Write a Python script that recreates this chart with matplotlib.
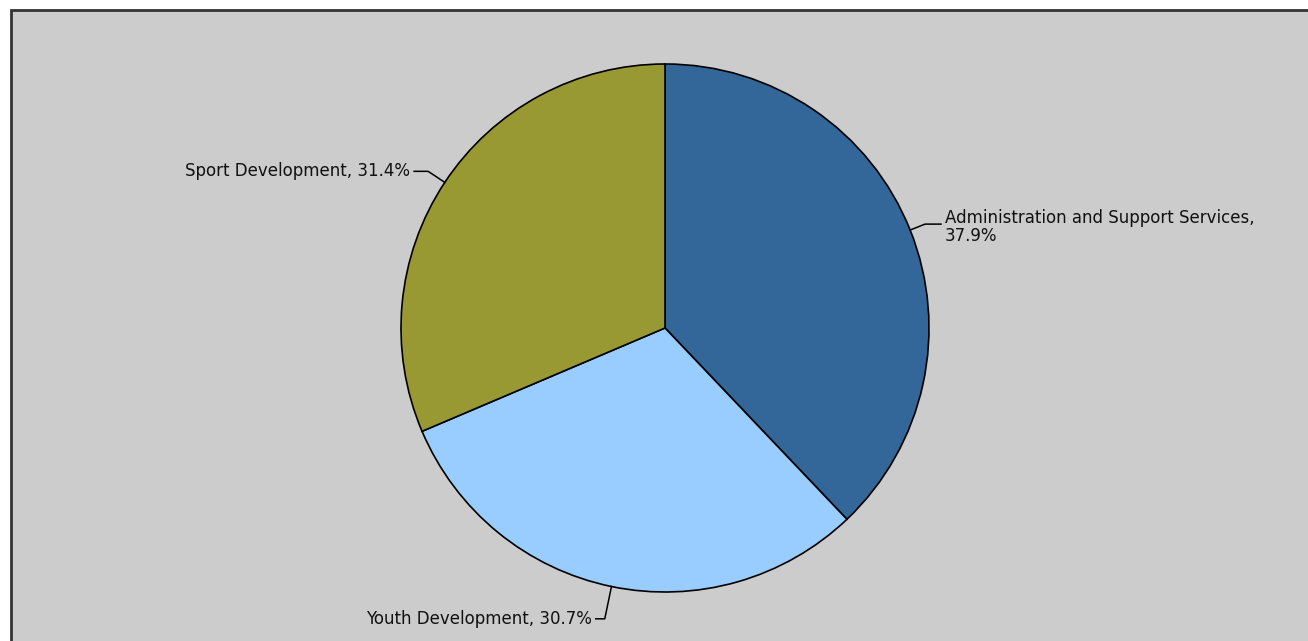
import numpy as np
import matplotlib.pyplot as plt
from matplotlib.patches import Rectangle

# data
categories = ["Administration and Support Services", "Youth Development", "Sport Development"]
shares = [37.9, 30.7, 31.4]
colors = ["#336699", "#99ccff", "#999933"]

W, H = 1308, 641
fig = plt.figure(figsize=(W / 100, H / 100), dpi=100)
fig.patch.set_facecolor("white")
ax = fig.add_axes([0, 0, 1, 1])

# gray panel with dark frame (cut off at right/bottom)
ax.add_patch(Rectangle((11, -20), W + 40, H - 10 + 20, facecolor="#cccccc",
                       edgecolor="#333333", linewidth=2, zorder=0))

cx, cy, r = 665, H - 328, 264
wedges, _ = ax.pie(shares, colors=colors, startangle=90, counterclock=False,
                   center=(cx, cy), radius=r, frame=True,
                   wedgeprops=dict(edgecolor="black", linewidth=1.2))
ax.set_xlim(0, W)
ax.set_ylim(0, H)
ax.set_aspect("equal")
ax.axis("off")

# leader line style per label: elbow offset from rim, horizontal length
elbow_off = [16, 33, 20]
horiz = [16, 9, 14]
for w, name, val, eo, hl in zip(wedges, categories, shares, elbow_off, horiz):
    ang = np.deg2rad((w.theta1 + w.theta2) / 2)
    ca, sa = np.cos(ang), np.sin(ang)
    p0 = (cx + r * ca, cy + r * sa)
    p1 = (cx + (r + eo) * ca, cy + (r + eo) * sa)
    side = 1 if ca > 0 else -1
    p2 = (p1[0] + side * hl, p1[1])
    ax.plot([p0[0], p1[0], p2[0]], [p0[1], p1[1], p2[1]], color="black", lw=1.1)
    if side > 0:
        txt = f"{name},\n{val}%"
        ax.text(p2[0] + 4, p2[1] - 3, txt, ha="left", va="center",
                fontsize=12, color="#111111", linespacing=1.0)
    else:
        txt = f"{name}, {val}%"
        ax.text(p2[0] - 4, p2[1], txt, ha="right", va="center",
                fontsize=12, color="#111111")

fig.savefig("out.png", dpi=100)
